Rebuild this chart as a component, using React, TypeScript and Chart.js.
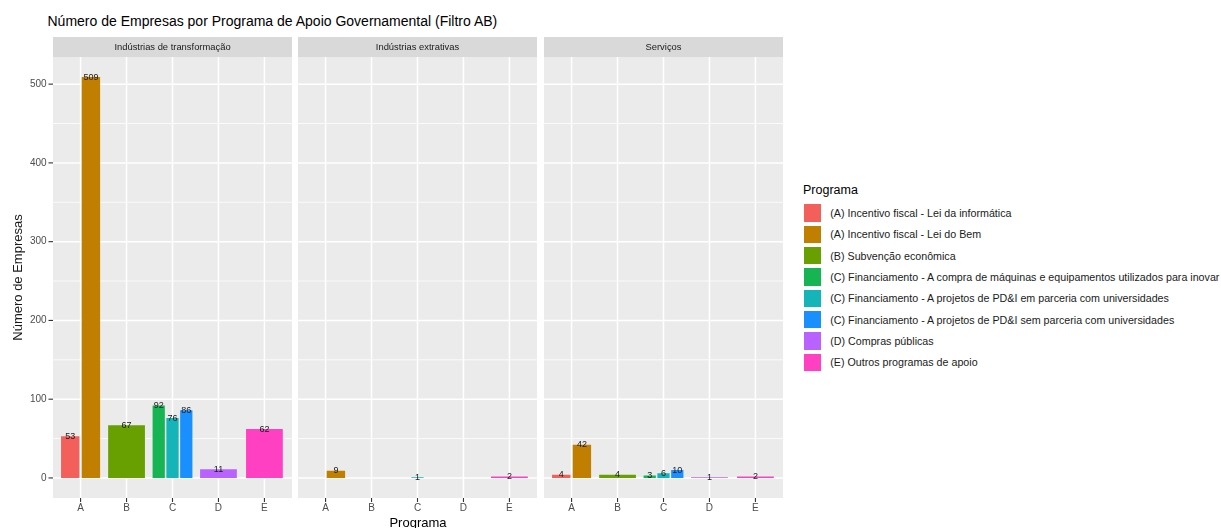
import React, { useEffect, useRef } from "react";
import { Chart, registerables } from "chart.js";

Chart.register(...registerables);

// Eixo x e séries
const categorias = ["A", "B", "C", "D", "E"];
const programas = [
  "(A) Incentivo fiscal - Lei da informática",
  "(A) Incentivo fiscal - Lei do Bem",
  "(B) Subvenção econômica",
  "(C) Financiamento - A compra de máquinas e equipamentos utilizados para inovar",
  "(C) Financiamento - A projetos de PD&I em parceria com universidades",
  "(C) Financiamento - A projetos de PD&I sem parceria com universidades",
  "(D) Compras públicas",
  "(E) Outros programas de apoio",
];
const programaCategoria = ["A", "A", "B", "C", "C", "C", "D", "E"];
const cores = ["#F35F5A", "#C17F00", "#67A000", "#16B452", "#15B4B8", "#1A90FF", "#B862FF", "#FF40C2"];

// Facetas (setores) e número de empresas por programa
const setores = ["Indústrias de transformação", "Indústrias extrativas", "Serviços"];
const valoresTransformacao = [53, 509, 67, 92, 76, 86, 11, 62];
const valoresExtrativas = [0, 9, null, 0, 1, 0, null, 2];
const valoresServicos = [4, 42, 4, 3, 6, 10, 1, 2];

const ticksY = [0, 100, 200, 300, 400, 500];
const minorY = [50, 150, 250, 350, 450];

const FONTE = "'Liberation Sans', Arial, Helvetica, sans-serif";
const valorMaximo = Math.max(...valoresTransformacao, ...valoresServicos);
const expansao = valorMaximo * 0.05;

// Largura do grupo (dodge) e largura total das barras, em unidades de categoria
const LARGURA_GRUPO = 0.9;
const LARGURA_BARRA = 0.8;

// Geometria dos painéis
const PAINEL_TOPO = 37;
const CANVAS_ALTURA = 528 - PAINEL_TOPO;
const FAIXA = 20;
const EIXO_X = 30;
const PAINEL_LARGURA = 239;
const INSET = (PAINEL_LARGURA / 5.2) * 0.1;
const paineis = [
  { setor: setores[0], valores: valoresTransformacao, left: 0, panelLeft: 53, eixoY: true },
  { setor: setores[1], valores: valoresExtrativas, left: 298, panelLeft: 298, eixoY: false },
  { setor: setores[2], valores: valoresServicos, left: 544, panelLeft: 544, eixoY: false },
];

const fundoPlugin = {
  id: "fundoPainel",
  beforeDraw(chart: any, _args: any, opts: any) {
    const { ctx, chartArea: a, scales } = chart;
    const xs = scales.x;
    const ys = scales.y;
    const l = a.left - INSET;
    const r = a.right + INSET;
    const line = (x1: number, y1: number, x2: number, y2: number) => {
      ctx.beginPath();
      ctx.moveTo(x1, y1);
      ctx.lineTo(x2, y2);
      ctx.stroke();
    };
    ctx.save();
    ctx.fillStyle = "#EBEBEB";
    ctx.fillRect(l, a.top, r - l, a.bottom - a.top);
    ctx.strokeStyle = "#FFFFFF";
    ctx.lineWidth = 0.8;
    minorY.forEach((v) => {
      const p = ys.getPixelForValue(v);
      line(l, p, r, p);
    });
    ctx.lineWidth = 1.5;
    ticksY.forEach((v) => {
      const p = ys.getPixelForValue(v);
      line(l, p, r, p);
    });
    categorias.forEach((_c, i) => {
      const p = xs.getPixelForValue(i);
      line(p, a.top, p, a.bottom);
    });
    // faixa com o nome do setor
    ctx.fillStyle = "#D9D9D9";
    ctx.fillRect(l, a.top - FAIXA, r - l, FAIXA);
    ctx.fillStyle = "#1A1A1A";
    ctx.font = `9.4px ${FONTE}`;
    ctx.textAlign = "center";
    ctx.textBaseline = "middle";
    ctx.fillText(opts.setor, (l + r) / 2, a.top - FAIXA / 2);
    // marcas dos eixos
    ctx.strokeStyle = "#333333";
    ctx.lineWidth = 1.1;
    categorias.forEach((_c, i) => {
      const p = xs.getPixelForValue(i);
      line(p, a.bottom, p, a.bottom + 4);
    });
    if (opts.eixoY) {
      ticksY.forEach((v) => {
        const p = ys.getPixelForValue(v);
        line(l - 4.5, p, l, p);
      });
    }
    ctx.restore();
  },
};

const rotulosPlugin = {
  id: "rotulosBarras",
  afterDatasetsDraw(chart: any) {
    const { ctx } = chart;
    ctx.save();
    ctx.fillStyle = "#1A1A1A";
    ctx.font = `9px ${FONTE}`;
    ctx.textAlign = "center";
    ctx.textBaseline = "middle";
    chart.data.datasets.forEach((ds: any, i: number) => {
      const meta = chart.getDatasetMeta(i);
      ds.data.forEach((v: number | null, j: number) => {
        if (v === null || v === 0) return;
        const el = meta.data[j];
        ctx.fillText(String(v), el.x, el.y);
      });
    });
    ctx.restore();
  },
};

function Painel({ setor, valores, left, panelLeft, eixoY }: any) {
  const ref = useRef<HTMLCanvasElement>(null);
  const largura = panelLeft + PAINEL_LARGURA - left;

  useEffect(() => {
    const datasets = programas.map((nome, i) => ({
      label: nome,
      data: categorias.map((c) => (c === programaCategoria[i] ? valores[i] : null)),
      backgroundColor: cores[i],
      borderWidth: 0,
      inflateAmount: 0,
      skipNull: true,
      categoryPercentage: LARGURA_GRUPO,
      barPercentage: LARGURA_BARRA / LARGURA_GRUPO,
    }));
    const chart = new Chart(ref.current as HTMLCanvasElement, {
      type: "bar",
      data: { labels: categorias, datasets },
      plugins: [fundoPlugin, rotulosPlugin],
      options: {
        responsive: false,
        animation: false,
        devicePixelRatio: 1,
        layout: {
          padding: { top: FAIXA, bottom: 0, right: INSET, left: eixoY ? 0 : INSET },
        },
        plugins: {
          legend: { display: false },
          tooltip: { enabled: false },
          fundoPainel: { setor, eixoY },
        } as any,
        scales: {
          x: {
            grid: { display: false, drawTicks: false },
            border: { display: false },
            ticks: {
              color: "#4D4D4D",
              font: { family: FONTE, size: 10 },
              padding: 4,
              maxRotation: 0,
              autoSkip: false,
            },
            afterFit: (s: any) => {
              s.height = EIXO_X;
            },
          },
          y: {
            display: eixoY,
            min: -expansao,
            max: valorMaximo + expansao,
            grid: { display: false, drawTicks: false },
            border: { display: false },
            afterBuildTicks: (s: any) => {
              s.ticks = ticksY.map((v) => ({ value: v }));
            },
            ticks: {
              color: "#4D4D4D",
              font: { family: FONTE, size: 10 },
              padding: 11,
            },
            title: {
              display: true,
              text: "Número de Empresas",
              color: "#1A1A1A",
              font: { family: FONTE, size: 13 },
              padding: { top: 11, bottom: 0 },
            },
            afterFit: (s: any) => {
              s.width = eixoY ? panelLeft + INSET : 0;
            },
          },
        },
      } as any,
    });
    return () => chart.destroy();
  }, []);

  return (
    <canvas
      ref={ref}
      width={largura}
      height={CANVAS_ALTURA}
      style={{ position: "absolute", left, top: PAINEL_TOPO, width: largura, height: CANVAS_ALTURA }}
    />
  );
}

function Texto({ x, baseline, size, children, color = "#000000", center = false }: any) {
  return (
    <div
      style={{
        position: "absolute",
        left: center ? x - 200 : x,
        width: center ? 400 : undefined,
        textAlign: center ? "center" : "left",
        top: baseline - 0.8465 * size,
        fontSize: size,
        lineHeight: `${size}px`,
        whiteSpace: "nowrap",
        color,
      }}
    >
      {children}
    </div>
  );
}

export default function App() {
  const chaveCentro = 213;
  const passo = 21.33;
  const chave = 17.3;
  return (
    <div
      style={{
        position: "fixed",
        left: 0,
        top: 0,
        width: 1221,
        height: 528,
        background: "#FFFFFF",
        fontFamily: FONTE,
        overflow: "hidden",
      }}
    >
      <Texto x={47.5} baseline={26} size={14}>
        Número de Empresas por Programa de Apoio Governamental (Filtro AB)
      </Texto>
      {paineis.map((p) => (
        <Painel key={p.setor} {...p} />
      ))}
      <Texto x={418} baseline={527} size={13} center color="#000000">
        Programa
      </Texto>
      <Texto x={803} baseline={195} size={12.5}>
        Programa
      </Texto>
      {programas.map((nome, i) => (
        <div
          key={nome}
          style={{
            position: "absolute",
            left: 803.5,
            top: chaveCentro + passo * i - chave / 2,
            height: chave,
            display: "flex",
            alignItems: "center",
            whiteSpace: "nowrap",
          }}
        >
          <div style={{ width: chave, height: chave, background: cores[i] }} />
          <span style={{ marginLeft: 9.5, fontSize: 10.7, color: "#1A1A1A" }}>{nome}</span>
        </div>
      ))}
    </div>
  );
}
